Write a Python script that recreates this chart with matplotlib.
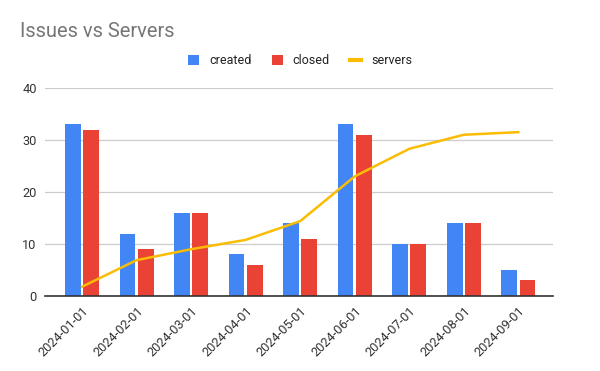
import numpy as np
import matplotlib.pyplot as plt
from matplotlib.patches import Patch
from matplotlib.lines import Line2D

plt.rcParams['font.family'] = ['Roboto', 'DejaVu Sans']

months = ['2024-01-01', '2024-02-01', '2024-03-01', '2024-04-01', '2024-05-01',
          '2024-06-01', '2024-07-01', '2024-08-01', '2024-09-01']
created = [33, 12, 16, 8, 14, 33, 10, 14, 5]
closed = [32, 9, 16, 6, 11, 31, 10, 14, 3]
servers = [1.8, 6.9, 9, 10.8, 14.4, 23, 28.3, 31, 31.5]

blue = '#4285F4'
red = '#EA4335'
yellow = '#FBBC04'

fig = plt.figure(figsize=(6, 3.71), dpi=100)
ax = fig.add_axes([0.075, 0.202, 0.847, 0.561])

x = np.arange(len(months))
w = 0.29
gap = 0.045
ax.bar(x - w / 2 - gap / 2, created, w, color=blue, zorder=2)
ax.bar(x + w / 2 + gap / 2, closed, w, color=red, zorder=2)
ax.plot(x, servers, color=yellow, lw=1.8, zorder=3)

ax.set_ylim(0, 40)
ax.set_xlim(-0.68, 8.64)
ax.set_yticks([0, 10, 20, 30, 40])
ax.set_xticks(x)
ax.set_xticklabels(months, rotation=45, ha='right', rotation_mode='anchor')
ax.tick_params(axis='both', length=0, labelsize=9.2, colors='#333333')
ax.tick_params(axis='x', pad=6)
ax.tick_params(axis='y', pad=6)
ax.grid(axis='y', color='#cccccc', lw=0.9, zorder=0)
for s in ['top', 'right', 'left']:
    ax.spines[s].set_visible(False)
ax.spines['bottom'].set_color('#333333')
ax.spines['bottom'].set_linewidth(1.2)
ax.spines['bottom'].set_zorder(4)

fig.text(0.033, 0.915, 'Issues vs Servers', fontsize=14.5, color='#757575',
         ha='left', va='center')

handles = [Patch(facecolor=blue, edgecolor='none'),
           Patch(facecolor=red, edgecolor='none'),
           Line2D([0], [0], color=yellow, lw=3)]
fig.legend(handles, ['created', 'closed', 'servers'], loc='center',
           bbox_to_anchor=(0.5, 0.836), ncol=3, frameon=False, fontsize=9,
           handlelength=0.9, handleheight=0.9, handletextpad=0.8,
           columnspacing=1.6, labelcolor='#222222')

fig.savefig('out.png', dpi=100)
